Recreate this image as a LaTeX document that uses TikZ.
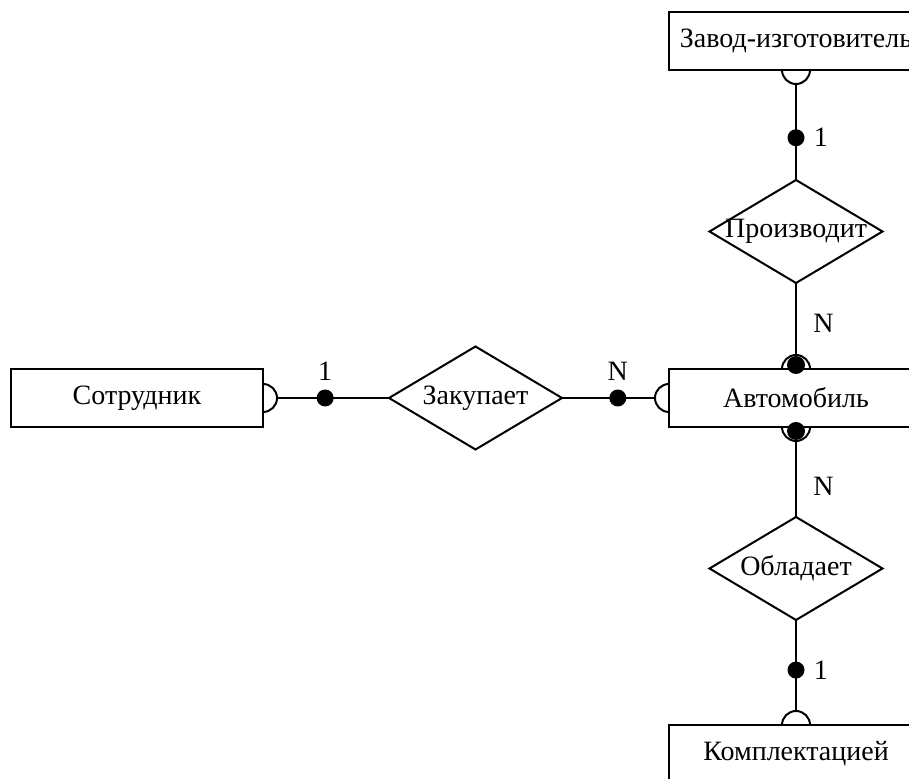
\documentclass[tikz,border=0pt]{standalone}
\usepackage{fontspec}
\setmainfont{Liberation Serif}
\usetikzlibrary{positioning,shapes.geometric}

\tikzset{
	entity/.style={draw, rectangle, line width=2pt, outer sep=0pt, inner sep=0pt, minimum width=254pt, minimum height=58pt},
	relation/.style={draw, diamond, line width=2pt, outer sep=0pt, inner sep=0pt, minimum width=173pt, minimum height=103pt},
	blob/.style={circle, fill, inner sep=0pt, minimum size=17pt},
	link/.style={line width=2pt},
}

\begin{document}
\begin{tikzpicture}[x=1pt, y=1pt, font=\fontsize{28}{33}\selectfont, label distance=4pt]
			
			\useasboundingbox (0,0) rectangle (909,778);
			
			\node[entity] (avto) at (796,380) {Автомобиль};
			
			\node[relation, above=86pt of avto] (proizv) {\makebox[0pt]{Производит}};
			\node[entity, above=110pt of proizv] (zavod) {Завод-изготовитель};
			
			\node[relation, below=90pt of avto] (obl) {\makebox[0pt]{Обладает}};
			\node[entity, below=105pt of obl] (kompl) {Комплектацией};
			
			\node[relation, left=107pt of avto] (zakup) {\makebox[0pt]{Закупает}};
			\node[entity, minimum width=252pt, left=126pt of zakup] (sotr) {Сотрудник};
			
			% half circles at the boxes
			\draw[link] ([yshift=14pt]sotr.east) arc[start angle=90, end angle=-90, radius=14pt];
			\draw[link] ([yshift=14pt]avto.west) arc[start angle=90, end angle=270, radius=14pt];
			\draw[link] ([xshift=14pt]avto.north) arc[start angle=0, end angle=180, radius=14pt];
			\draw[link] ([xshift=14pt]avto.south) arc[start angle=0, end angle=-180, radius=14pt];
			\draw[link] ([xshift=14pt]zavod.south) arc[start angle=0, end angle=-180, radius=14pt];
			\draw[link] ([xshift=14pt]kompl.north) arc[start angle=0, end angle=180, radius=14pt];
			\fill ([yshift=4pt]avto.north) circle (9pt);
			\fill ([yshift=-4pt]avto.south) circle (9pt);
			
			% links
			\draw[link] ([xshift=14pt]sotr.east) -- node[blob, pos=.43, label=above:1] {} (zakup.west);
			\draw[link] (zakup.east) -- node[blob, pos=.6, label=above:N] {} ([xshift=-14pt]avto.west);
			\draw[link] ([yshift=-14pt]zavod.south) -- node[blob, pos=.56, label=right:1] {} (proizv.north);
			\draw[link] (proizv.south) -- node[pos=.56, right=13pt] {N} ([yshift=14pt]avto.north);
			\draw[link] ([yshift=-14pt]avto.south) -- node[pos=.59, right=13pt] {N} (obl.north);
			\draw[link] (obl.south) -- node[blob, pos=.55, label=right:1] {} ([yshift=14pt]kompl.north);
			
\end{tikzpicture}
\end{document}
